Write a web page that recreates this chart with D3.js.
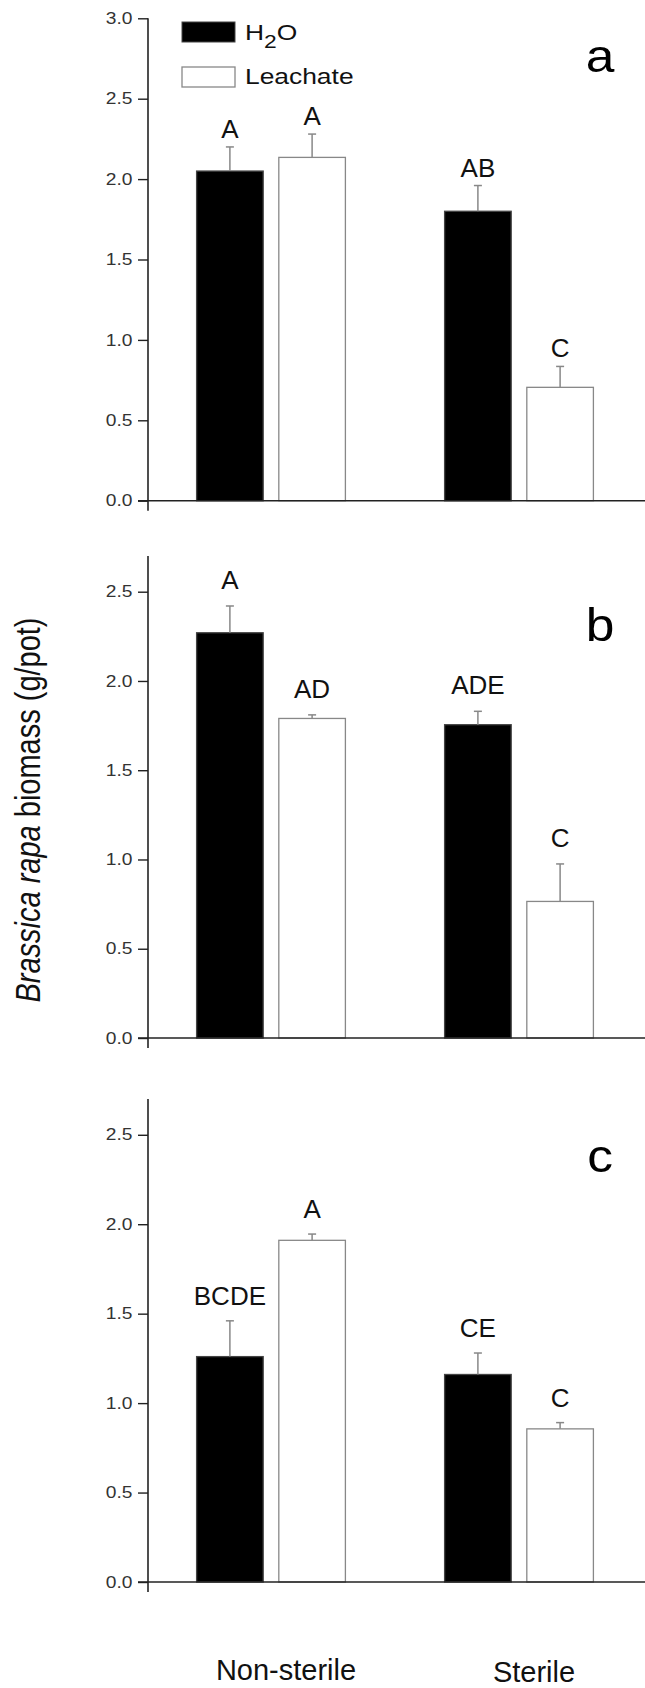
<!DOCTYPE html>
<html>
<head>
<meta charset="utf-8">
<script src="https://cdn.jsdelivr.net/npm/d3@7"></script>
<style>
  body { margin: 0; background: #fff; }
  svg { display: block; font-family: "Liberation Sans", Arial, sans-serif; }
</style>
</head>
<body>
<div id="chart"></div>
<script>
// Datos
const grupos = ["Non-sterile", "Sterile"];
const series = ["H2O", "Leachate"];

const mediasA = [[2.05, 2.135], [1.80, 0.705]];
const errA = [[0.15, 0.145], [0.16, 0.13]];
const letrasA = [["A", "A"], ["AB", "C"]];

const mediasB = [[2.27, 1.79], [1.755, 0.765]];
const errB = [[0.15, 0.02], [0.075, 0.21]];
const letrasB = [["A", "AD"], ["ADE", "C"]];

const mediasC = [[1.26, 1.91], [1.16, 0.856]];
const errC = [[0.20, 0.035], [0.12, 0.035]];
const letrasC = [["BCDE", "A"], ["CE", "C"]];

const ticksA = [0, 0.5, 1.0, 1.5, 2.0, 2.5, 3.0];
const ticksBC = [0, 0.5, 1.0, 1.5, 2.0, 2.5];

const width = 645;
const height = 1688;
const ejeX = 148;
const estirar = 1.2; // el texto original está algo ensanchado

const svg = d3.select("#chart")
  .append("svg")
  .attr("width", width)
  .attr("height", height);

// Escalas horizontales
const x0 = d3.scaleBand()
  .domain(grupos)
  .range([147, 643])
  .paddingInner(0.4)
  .paddingOuter(0.2);

const x1 = d3.scaleBand()
  .domain(series)
  .range([0, x0.bandwidth()])
  .paddingInner(0.19)
  .paddingOuter(0);

const colorRelleno = d3.scaleOrdinal().domain(series).range(["#000", "#fff"]);
const colorBorde = d3.scaleOrdinal().domain(series).range(["#444", "#888"]);

const paneles = [
  { medias: mediasA, err: errA, letras: letrasA, ticks: ticksA, max: 3.0, top: 18.3, bottom: 500.7, nombre: "a", yNombre: 72, sep: 9 },
  { medias: mediasB, err: errB, letras: letrasB, ticks: ticksBC, max: 2.7, top: 556, bottom: 1038, nombre: "b", yNombre: 641, sep: 17 },
  { medias: mediasC, err: errC, letras: letrasC, ticks: ticksBC, max: 2.7, top: 1099, bottom: 1582, nombre: "c", yNombre: 1172, sep: 16 }
];

paneles.forEach(function(p) {
  const y = d3.scaleLinear().domain([0, p.max]).range([p.bottom, p.top]);
  const g = svg.append("g");

  // datos planos
  const filas = [];
  grupos.forEach(function(gr, i) {
    series.forEach(function(s, j) {
      filas.push({ grupo: gr, serie: s, v: p.medias[i][j], e: p.err[i][j], letra: p.letras[i][j] });
    });
  });

  // barras
  g.selectAll("rect.barra")
    .data(filas)
    .enter()
    .append("rect")
    .attr("class", "barra")
    .attr("x", d => x0(d.grupo) + x1(d.serie))
    .attr("y", d => y(d.v))
    .attr("width", x1.bandwidth())
    .attr("height", d => y(0) - y(d.v))
    .attr("fill", d => colorRelleno(d.serie))
    .attr("stroke", d => colorBorde(d.serie))
    .attr("stroke-width", 1.3);

  // barras de error (solo hacia arriba)
  const cx = d => x0(d.grupo) + x1(d.serie) + x1.bandwidth() / 2;
  g.selectAll("line.err")
    .data(filas)
    .enter()
    .append("line")
    .attr("x1", cx)
    .attr("x2", cx)
    .attr("y1", d => y(d.v))
    .attr("y2", d => y(d.v + d.e))
    .attr("stroke", "#888")
    .attr("stroke-width", 1.5);

  g.selectAll("line.cap")
    .data(filas)
    .enter()
    .append("line")
    .attr("x1", d => cx(d) - 4)
    .attr("x2", d => cx(d) + 4)
    .attr("y1", d => y(d.v + d.e))
    .attr("y2", d => y(d.v + d.e))
    .attr("stroke", "#888")
    .attr("stroke-width", 1.5);

  // letras de significancia
  g.selectAll("text.letra")
    .data(filas)
    .enter()
    .append("text")
    .attr("x", cx)
    .attr("y", d => y(d.v + d.e) - p.sep)
    .attr("text-anchor", "middle")
    .style("font-size", "26px")
    .style("fill", "#111")
    .text(d => d.letra);

  // eje y
  const eje = g.append("g")
    .attr("transform", `translate(${ejeX},0)`)
    .call(d3.axisLeft(y)
      .tickValues(p.ticks)
      .tickFormat(d3.format(".1f"))
      .tickSize(10)
      .tickPadding(3));
  eje.select(".domain").remove();
  eje.selectAll(".tick line").attr("stroke", "#222").attr("stroke-width", 1.4);
  eje.selectAll(".tick text")
    .style("font-size", "16px")
    .style("font-family", "'Liberation Sans', Arial, sans-serif")
    .attr("transform", `scale(${estirar},1)`)
    .attr("fill", "#333");

  g.append("line")
    .attr("x1", ejeX).attr("x2", ejeX)
    .attr("y1", p.top).attr("y2", p.bottom + 10)
    .attr("stroke", "#222").attr("stroke-width", 1.6);

  g.append("line")
    .attr("x1", ejeX - 10).attr("x2", width)
    .attr("y1", y(0)).attr("y2", y(0))
    .attr("stroke", "#222").attr("stroke-width", 1.6);

  // letra del panel
  g.append("text")
    .attr("transform", `translate(600,${p.yNombre}) scale(1.12,1)`)
    .attr("text-anchor", "middle")
    .style("font-size", "46px")
    .style("fill", "#000")
    .text(p.nombre);
});

// Leyenda
const leyenda = svg.append("g");
leyenda.append("rect")
  .attr("x", 182).attr("y", 22).attr("width", 53).attr("height", 20)
  .attr("fill", "#000").attr("stroke", "#444");
leyenda.append("rect")
  .attr("x", 182).attr("y", 67).attr("width", 53).attr("height", 20)
  .attr("fill", "#fff").attr("stroke", "#888").attr("stroke-width", 1.3);

const tH = leyenda.append("text")
  .attr("transform", `translate(245,39.5) scale(${estirar},1)`)
  .style("font-size", "22px").style("fill", "#111");
tH.append("tspan").text("H");
tH.append("tspan").attr("dy", 8).style("font-size", "19px").text("2");
tH.append("tspan").attr("dy", -8).text("O");

leyenda.append("text")
  .attr("transform", `translate(245,84) scale(${estirar},1)`)
  .style("font-size", "22px").style("fill", "#111")
  .text("Leachate");

// Etiquetas del eje x
svg.selectAll("text.grupo")
  .data(grupos)
  .enter()
  .append("text")
  .attr("class", "grupo")
  .attr("x", d => x0(d) + x0.bandwidth() / 2 + 15)
  .attr("y", (d, i) => 1680 + i * 2)
  .attr("text-anchor", "middle")
  .style("font-size", "29px")
  .style("fill", "#111")
  .text(d => d);

// Título del eje y
const ty = svg.append("text")
  .attr("transform", `translate(40,810) scale(${estirar},1) rotate(-90)`)
  .attr("text-anchor", "middle")
  .style("font-size", "29px")
  .style("fill", "#111");
ty.append("tspan").style("font-style", "italic").text("Brassica rapa");
ty.append("tspan").text(" biomass  (g/pot)");
</script>
</body>
</html>
